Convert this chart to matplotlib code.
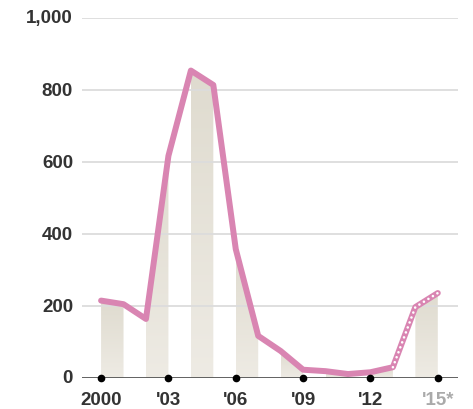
import numpy as np
import matplotlib
matplotlib.use("Agg")
from matplotlib import pyplot as plt
from matplotlib.colors import LinearSegmentedColormap

plt.rcParams["font.family"] = ["Liberation Sans", "DejaVu Sans"]

# yearly values, last two years are estimates
years = list(range(2000, 2016))
values = [215, 205, 164, 617, 854, 814, 358, 117, 75, 23, 19, 11, 16, 30, 197, 236]
estimate_from = 2013

y_ticks = [0, 200, 400, 600, 800, 1000]
y_labels = ["0", "200", "400", "600", "800", "1,000"]
x_ticks = [2000, 2003, 2006, 2009, 2012, 2015]
x_labels = ["2000", "'03", "'06", "'09", "'12", "'15*"]

PINK = "#d985b2"
TEXT = "#333333"

fig = plt.figure(figsize=(4.73, 4.10), dpi=100)
ax = fig.add_axes([82 / 473, 1 - 379 / 410, (458 - 82) / 473, (379 - 19) / 410])
ax.set_xlim(1999.15, 2015.9)
ax.set_ylim(0, 1000)

for t in y_ticks[1:]:
    ax.axhline(t, color="#dcdcdc", lw=1.3, zorder=2)

# shaded area under the line, shown in alternate year stripes
cmap = LinearSegmentedColormap.from_list("sand", ["#eeebe4", "#dfdbcf"])
grad = np.linspace(0, 1, 256).reshape(-1, 1)
x_arr = np.array(years, dtype=float)
v_arr = np.array(values, dtype=float)
for start in range(2000, 2015, 2):
    xs = np.array([start, start + 1], dtype=float)
    ys = np.interp(xs, x_arr, v_arr)
    poly = ax.fill_between(xs, 0, ys, color="none", lw=0)
    img = ax.imshow(grad, cmap=cmap, origin="lower", aspect="auto",
                    extent=[start, start + 1, 0, ys.max()], zorder=1)
    img.set_clip_path(poly.get_paths()[0], transform=ax.transData)

ax.plot(years, values, color=PINK, lw=4.3, solid_joinstyle="round",
        solid_capstyle="round", zorder=3)
est = [i for i, y in enumerate(years) if y >= estimate_from]
ax.plot([years[i] for i in est], [values[i] for i in est], color="white",
        lw=1.9, linestyle=(0, (0.01, 2.0)), dash_capstyle="round", zorder=4)

ax.axhline(0, color="#555555", lw=1.3, zorder=2)
ax.plot(x_ticks, [0] * len(x_ticks), "o", color="black", ms=4.5, zorder=5,
        clip_on=False)

for s in ax.spines.values():
    s.set_visible(False)
ax.set_xticks([])
ax.set_yticks([])

for t, lab in zip(y_ticks, y_labels):
    ax.text(1998.75, t, lab, ha="right", va="center", fontsize=13.5,
            fontweight="bold", color=TEXT)
for t, lab in zip(x_ticks, x_labels):
    col = "#aaaaaa" if t == 2015 else TEXT
    ax.text(t, -36, lab, ha="center", va="top", fontsize=13.5,
            fontweight="bold", color=col, clip_on=False)

fig.savefig("out.png", dpi=100)
